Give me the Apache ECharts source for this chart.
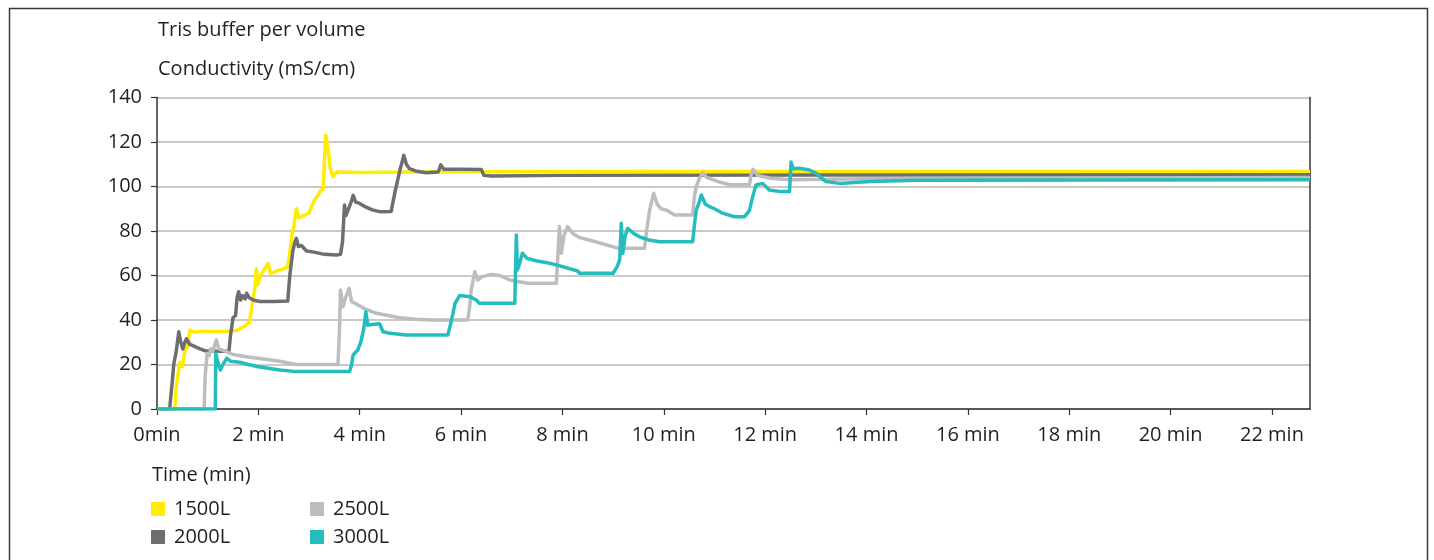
<!DOCTYPE html>
<html>
<head>
<meta charset="utf-8">
<script src="https://cdn.jsdelivr.net/npm/echarts@6/dist/echarts.min.js"></script>
<style>
html,body{margin:0;padding:0;background:#fff;}
#chart{width:1434px;height:560px;}
</style>
</head>
<body>
<div id="chart"></div>
<script>
// Data: [time (min), conductivity (mS/cm)]
const seriesNames = ['1500L', '2000L', '2500L', '3000L'];
const xTicks = [0, 2, 4, 6, 8, 10, 12, 14, 16, 18, 20, 22];
const yTicks = [0, 20, 40, 60, 80, 100, 120, 140];

const s1500 = [[0,0],[0.35,0],[0.38,10],[0.45,21],[0.5,19],[0.55,26],[0.6,28],[0.65,35.5],[0.75,34.5],[0.9,35],[1.2,34.8],[1.47,35],[1.6,35.5],[1.75,37.5],[1.82,39],[1.86,44],[1.9,50],[1.93,54],[1.96,63],[1.99,56],[2.04,60],[2.1,62],[2.19,65.5],[2.24,61],[2.35,62],[2.5,63],[2.58,64],[2.62,70],[2.66,78],[2.7,82],[2.75,90],[2.8,86],[2.9,87],[3.0,88],[3.05,91],[3.11,94],[3.18,96],[3.22,98],[3.28,99],[3.31,115],[3.33,123],[3.37,118],[3.42,108],[3.47,104.5],[3.55,106.5],[4.0,106.3],[5,106.5],[8,106.7],[22.75,106.7]];

const s2000 = [[0,0],[0.25,0],[0.27,5],[0.3,12],[0.33,20],[0.38,26],[0.43,34.7],[0.47,30],[0.51,27],[0.55,30],[0.58,31.5],[0.65,29],[0.75,28],[0.85,27],[0.94,26.2],[1.2,26],[1.42,26],[1.45,33],[1.5,41],[1.55,42],[1.58,50],[1.61,52.7],[1.65,49],[1.69,51],[1.74,49.5],[1.77,52],[1.82,50],[1.9,49],[2.03,48.3],[2.3,48.3],[2.58,48.5],[2.62,60],[2.68,71],[2.72,75],[2.75,76.7],[2.79,73],[2.85,73.5],[2.95,71],[3.1,70.5],[3.3,69.5],[3.54,69.2],[3.62,69.5],[3.66,75],[3.7,91.7],[3.73,87],[3.78,90],[3.83,93],[3.87,96],[3.92,93],[4.0,92.4],[4.1,91],[4.25,89.5],[4.39,88.7],[4.62,88.8],[4.7,98],[4.75,103],[4.8,108],[4.87,114],[4.92,110],[4.98,108],[5.1,107],[5.31,106.2],[5.55,106.5],[5.6,109.7],[5.66,107.7],[6.0,107.8],[6.4,107.6],[6.45,105],[6.6,104.7],[8,105],[13,105.2],[22.75,105.3]];

const s2500 = [[0,0],[0.93,0],[0.95,15],[0.99,25],[1.03,24],[1.06,27],[1.1,26],[1.17,31],[1.22,27],[1.37,25.8],[1.5,24.5],[1.83,23.3],[2.1,22.5],[2.42,21.5],[2.75,20],[3.57,20],[3.6,35],[3.62,53.5],[3.67,46],[3.72,50],[3.79,54.2],[3.84,48.2],[3.95,47],[4.1,45],[4.33,43],[4.79,41],[5.1,40.3],[5.45,40],[6.13,40],[6.17,46],[6.2,53.5],[6.27,61.7],[6.33,58],[6.42,59.5],[6.6,60.5],[6.76,60],[6.96,58],[7.31,56.5],[7.88,56.5],[7.9,65],[7.94,82],[7.98,70],[8.03,78],[8.1,82],[8.2,79],[8.34,77],[8.6,75.5],[9.09,72.3],[9.62,72.3],[9.66,80],[9.72,89.4],[9.8,97],[9.87,92],[9.95,90],[10.05,89.4],[10.21,87.2],[10.57,87.2],[10.6,95],[10.64,100],[10.69,103],[10.77,106.2],[10.85,104],[10.9,103.7],[11.1,102],[11.3,100.8],[11.69,100.8],[11.72,105],[11.76,107.7],[11.85,105],[12.1,103.7],[12.5,103],[14,103.5],[22.75,104]];

const s3000 = [[0,0],[1.15,0],[1.16,25],[1.2,21],[1.25,17.5],[1.3,20],[1.38,22.8],[1.45,21.5],[1.63,21],[1.8,20],[2.0,19],[2.42,17.5],[2.75,16.8],[3.8,16.8],[3.84,20],[3.87,24.3],[3.96,26.5],[4.02,30],[4.08,36],[4.12,43.7],[4.16,37.7],[4.25,38],[4.39,38.3],[4.46,34.7],[4.6,34],[4.92,33.3],[5.74,33.3],[5.78,37],[5.84,43],[5.88,47.5],[5.97,51],[6.17,50.5],[6.3,49],[6.36,47.5],[7.06,47.5],[7.09,78.2],[7.11,62.5],[7.15,65],[7.21,70],[7.3,67.7],[7.5,66.5],[7.75,65.5],[8.0,64],[8.3,62],[8.34,61],[9.0,61],[9.08,64],[9.13,67],[9.16,83.5],[9.19,70],[9.24,78],[9.29,81.2],[9.4,79],[9.52,77.4],[9.7,76],[9.92,75.2],[10.57,75.2],[10.6,82],[10.64,89.4],[10.7,93],[10.74,96.2],[10.82,92],[10.9,91],[11.0,90],[11.16,88],[11.39,86.4],[11.59,86.4],[11.65,88],[11.69,89.4],[11.76,96],[11.82,100.7],[11.95,101.4],[12.08,98.4],[12.3,97.7],[12.48,97.7],[12.51,111],[12.55,108],[12.68,108.2],[12.87,107.4],[13.0,106],[13.1,104],[13.2,102.2],[13.47,101.4],[14.06,102.2],[15,102.8],[22.75,103]];

const seriesData = [s1500, s2000, s2500, s3000];
const colors = ['#FFEC00', '#6D6E71', '#BCBDC0', '#22BDBC'];
const drawOrder = [0, 1, 2, 3];

const FONT = '"Open Sans", "Noto Sans", sans-serif';
const TXT = '#231F20';
const AX = '#333333';

const chart = echarts.init(document.getElementById('chart'), null, {renderer: 'canvas'});

const series = drawOrder.map(i => ({
  name: seriesNames[i],
  type: 'line',
  data: seriesData[i],
  showSymbol: false,
  symbol: 'none',
  color: colors[i],
  lineStyle: {color: colors[i], width: 3.5, join: 'round'},
  itemStyle: {color: colors[i]},
  z: 2 + i,
  animation: false
}));

const legendCommon = {
  orient: 'vertical',
  icon: 'rect',
  itemWidth: 14,
  itemHeight: 14,
  itemGap: 8,
  padding: 0,
  top: 499,
  selectedMode: false,
  textStyle: {fontFamily: FONT, fontSize: 20, color: TXT, lineHeight: 20, padding: [0, 0, 0, 4]}
};

chart.setOption({
  animation: false,
  backgroundColor: '#ffffff',
  textStyle: {fontFamily: FONT},
  grid: {left: 157, right: 124, top: 97.5, bottom: 151},
  legend: [
    Object.assign({}, legendCommon, {left: 151, data: [seriesNames[0], seriesNames[1]]}),
    Object.assign({}, legendCommon, {left: 310, data: [seriesNames[2], seriesNames[3]]})
  ],
  graphic: [
    {type: 'rect', shape: {x: 9.5, y: 8.5, width: 1418, height: 600}, style: {fill: 'none', stroke: '#3a3a3a', lineWidth: 1.5}, silent: true, z: 0},
    {type: 'text', left: 158, top: 20, style: {text: 'Tris buffer per volume', font: '20px ' + FONT, fill: TXT}},
    {type: 'text', left: 158, top: 59, style: {text: 'Conductivity (mS/cm)', font: '20px ' + FONT, fill: TXT}},
    {type: 'text', left: 152, top: 465.5, style: {text: 'Time (min)', font: '20px ' + FONT, fill: TXT}}
  ],
  xAxis: {
    type: 'value',
    min: 0,
    max: 22.75,
    interval: 2,
    axisLine: {show: true, onZero: false, lineStyle: {color: AX, width: 1.5}},
    axisTick: {show: true, length: 6, customValues: xTicks, lineStyle: {color: AX, width: 1.2}},
    axisLabel: {
      customValues: xTicks,
      margin: 16,
      fontFamily: FONT, fontSize: 20, color: TXT,
      formatter: v => (v === 0 ? '0min' : v + ' min')
    },
    splitLine: {show: false}
  },
  yAxis: [
    {
      type: 'value',
      min: 0,
      max: 140,
      interval: 20,
      axisLine: {show: true, lineStyle: {color: AX, width: 1.5}},
      axisTick: {show: true, length: 6, lineStyle: {color: AX, width: 1.2}},
      axisLabel: {margin: 15, fontFamily: FONT, fontSize: 20, color: TXT},
      splitLine: {show: true, lineStyle: {color: '#C9C9C9', width: 2}}
    },
    {
      type: 'value',
      position: 'right',
      min: 0,
      max: 140,
      interval: 20,
      axisLine: {show: true, lineStyle: {color: AX, width: 1.5}},
      axisTick: {show: false},
      axisLabel: {show: false},
      splitLine: {show: false}
    }
  ],
  series: series
});
</script>
</body>
</html>
